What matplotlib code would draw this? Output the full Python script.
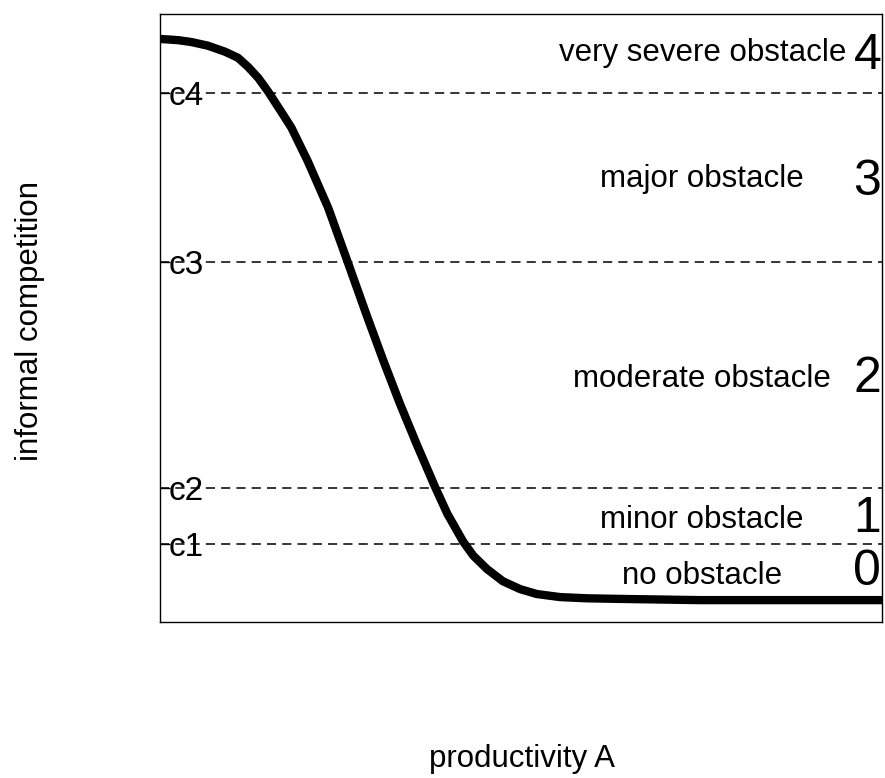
import matplotlib
matplotlib.use("Agg")
import matplotlib.pyplot as plt

plt.rcParams["font.family"] = ["Liberation Sans", "DejaVu Sans"]

# curve (x: productivity 0..10, y: informal competition 0..10)
prod = [0, 0.25, 0.43, 0.66, 0.90, 1.08, 1.22, 1.36, 1.50, 1.68, 1.82, 2.05,
        2.33, 2.60, 2.87, 3.09, 3.32, 3.56, 3.81, 3.98, 4.20, 4.34, 4.53,
        4.75, 4.99, 5.22, 5.54, 5.91, 6.37, 7.48, 8.86, 10]
comp = [9.59, 9.57, 9.54, 9.48, 9.38, 9.28, 9.13, 8.95, 8.72, 8.39, 8.13, 7.57,
        6.81, 5.92, 5.02, 4.31, 3.60, 2.91, 2.22, 1.78, 1.32, 1.09, 0.87,
        0.67, 0.54, 0.46, 0.41, 0.39, 0.38, 0.36, 0.36, 0.36]

cuts = [1.28, 2.20, 5.92, 8.70]
cut_labels = ["c1", "c2", "c3", "c4"]

categories = ["no obstacle", "minor obstacle", "moderate obstacle",
              "major obstacle", "very severe obstacle"]
codes = ["0", "1", "2", "3", "4"]
cat_y = [0.76, 1.68, 4.00, 7.29, 9.36]   # vertical spot of each label
code_y = [0.83, 1.70, 4.00, 7.23, 9.31]

fig = plt.figure(figsize=(8.85, 7.78), dpi=100)
ax = fig.add_axes([0.1808, 0.2005, 0.8158, 0.7815])

ax.plot(prod, comp, color="black", lw=6, solid_joinstyle="round",
        solid_capstyle="butt")
for c in cuts:
    ax.axhline(c, color="black", lw=1.1, ls=(0, (6, 4)))

for name, y in zip(categories, cat_y):
    ax.text(7.51, y, name, ha="center", va="center", fontsize=22.5)
for code, y in zip(codes, code_y):
    ax.text(9.99, y, code, ha="right", va="center", fontsize=36)

ax.set_xlim(0, 10)
ax.set_ylim(0, 10)
ax.set_xticks([])
ax.set_yticks(cuts)
ax.set_yticklabels(cut_labels, fontsize=24, ha="left")
ax.tick_params(axis="y", direction="in", length=7, width=1, pad=-6)
for s in ax.spines.values():
    s.set_linewidth(1.0)

fig.text(0.034, 0.587, "informal competition", rotation=90,
         ha="center", va="center", fontsize=22.5)
fig.text(0.590, 0.025, "productivity A", ha="center", va="center",
         fontsize=22.5)

fig.savefig("out.png", dpi=100, facecolor="white")
